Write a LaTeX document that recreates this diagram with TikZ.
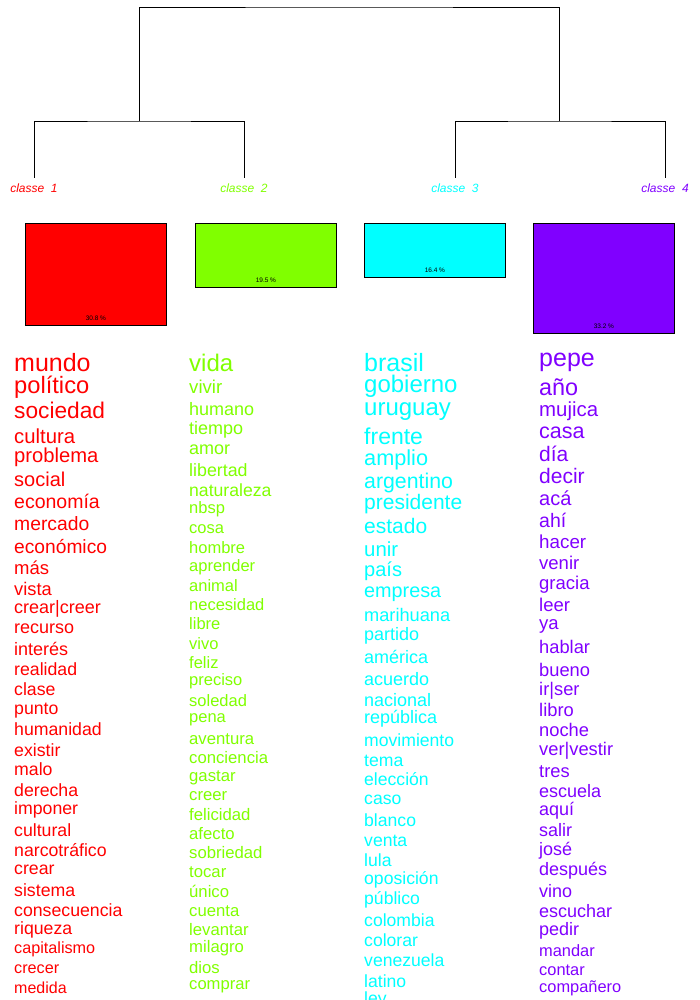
\documentclass[tikz,border=0pt]{standalone}
\usepackage{fontspec}
\setmainfont{Liberation Sans}
\usepackage{xcolor}
\definecolor{cla}{HTML}{FF0000}
\definecolor{clb}{HTML}{80FF00}
\definecolor{clc}{HTML}{00FFFF}
\definecolor{cld}{HTML}{8000FF}
\usetikzlibrary{positioning}

\begin{document}
\begin{tikzpicture}[x=1pt, y=-1pt,
  tree/.style={draw=black, line width=0.8pt},
  classlabel/.style={inner sep=0pt, font=\fontsize{12}{12}\selectfont\itshape},
  classbox/.style={draw=black, line width=0.8pt, anchor=north west, inner sep=0pt, minimum width=141pt},
  pct/.style={inner sep=0pt, anchor=south, yshift=5pt, font=\fontsize{6.5}{6.5}\selectfont},
  word/.style={inner sep=0pt, anchor=mid west, yshift=-5pt}
]
  \useasboundingbox (0,0) rectangle (700,1000);

  % dendrogram
  \node[classlabel, text=cla] (cl1) at (34,188) {classe\ \ 1};
  \node[classlabel, text=clb] (cl2) at (244,188) {classe\ \ 2};
  \node[classlabel, text=clc] (cl3) at (455,188) {classe\ \ 3};
  \node[classlabel, text=cld] (cl4) at (665,188) {classe\ \ 4};
  \coordinate (l1) at (34,178);
  \coordinate (l2) at (244,178);
  \coordinate (l3) at (455,178);
  \coordinate (l4) at (665,178);
  \coordinate (j12) at (139,121);
  \coordinate (j34) at (559,121);
  \coordinate (root) at (349,7);
  \draw[tree] (l1) |- (j12) -| (l2);
  \draw[tree] (l3) |- (j34) -| (l4);
  \draw[tree] (j12) |- (root) -| (j34);

  % class sizes
  \node[classbox, fill=cla, minimum height=102pt] (box1) at (25,223) {};
  \node[classbox, fill=clb, minimum height=64pt] (box2) at (195,223) {};
  \node[classbox, fill=clc, minimum height=54pt] (box3) at (364,223) {};
  \node[classbox, fill=cld, minimum height=110pt] (box4) at (533,223) {};
  \node[pct] (p1) at (box1.south) {30.8 \%};
  \node[pct] (p2) at (box2.south) {19.5 \%};
  \node[pct] (p3) at (box3.south) {16.4 \%};
  \node[pct] (p4) at (box4.south) {33.2 \%};

  % words of classe 1
  \foreach \y/\s/\w [count=\i] in {
    364/25/mundo, 386/23.7/político, 411/22.7/sociedad, 436/20.3/cultura,
    455/20.2/problema, 479/20/social, 501/19.5/economía, 523/19.3/mercado,
    546/19.2/económico, 567/18.5/más, 588/18.3/vista, 606/18/crear|creer,
    626/18/recurso, 648/18/interés, 668/17.7/realidad, 688/17.7/clase,
    707/17.7/punto, 728/17.7/humanidad, 749/17.7/existir, 768/17.7/malo,
    789/17.7/derecha, 807/17.7/imponer, 829/17.7/cultural, 849/17.7/narcotráfico,
    867/17.7/crear, 889/17.7/sistema, 909/17.7/consecuencia, 927/17.7/riqueza,
    946/16.2/capitalismo, 966/16.2/crecer, 986/16/medida
  }{
    \node[word, text=cla, font=\fontsize{\s}{\s}\selectfont] (a\i) at (14,\y) {\w};
  }

  % words of classe 2
  \foreach \y/\s/\w [count=\i] in {
    364/24/vida, 386/18.6/vivir, 408/18/humano, 427/18/tiempo,
    447/18/amor, 469/17.8/libertad, 489/17.6/naturaleza, 506/16.5/nbsp,
    526/16.5/cosa, 546/16.5/hombre, 564/16.5/aprender, 584/16.5/animal,
    603/16.5/necesidad, 622/16.5/libre, 642/16.5/vivo, 661/16.5/feliz,
    678/16.5/preciso, 699/16.5/soledad, 715/16.5/pena, 737/16.7/aventura,
    756/16.7/conciencia, 774/16.7/gastar, 793/16.7/creer, 813/16.7/felicidad,
    832/16.7/afecto, 851/16.7/sobriedad, 870/16.7/tocar, 890/16.7/único,
    909/16.7/cuenta, 928/16.7/levantar, 945/16.7/milagro, 966/16.7/dios,
    982/16.6/comprar
  }{
    \node[word, text=clb, font=\fontsize{\s}{\s}\selectfont] (b\i) at (189,\y) {\w};
  }

  % words of classe 3
  \foreach \y/\s/\w [count=\i] in {
    364/25/brasil, 385/24/gobierno, 408/24/uruguay, 437/23/frente,
    458/21.7/amplio, 481/21.3/argentino, 502/21/presidente, 526/21/estado,
    549/20.4/unir, 569/20/país, 590/19.8/empresa, 614/18.2/marihuana,
    633/18/partido, 656/18/américa, 678/18/acuerdo, 699/18/nacional,
    716/18/república, 739/17.6/movimiento, 759/17.6/tema, 778/17.6/elección,
    797/17.6/caso, 819/17.6/blanco, 839/17.6/venta, 859/17.6/lula,
    877/17.6/oposición, 897/17.6/público, 919/17.6/colombia, 939/17.6/colorar,
    959/17.6/venezuela, 980/17.6/latino, 997/17.6/ley
  }{
    \node[word, text=clc, font=\fontsize{\s}{\s}\selectfont] (c\i) at (364,\y) {\w};
  }

  % words of classe 4
  \foreach \y/\s/\w [count=\i] in {
    359/25/pepe, 388/23.4/año, 409/20.4/mujica, 431/21.5/casa,
    454/21/día, 476/21/decir, 498/20/acá, 520/19.5/ahí,
    541/18.8/hacer, 562/18.5/venir, 582/18.5/gracia, 604/18.5/leer,
    622/18.5/ya, 646/18.3/hablar, 669/18.3/bueno, 688/18.3/ir|ser,
    709/18.3/libro, 729/18.3/noche, 748/18.3/ver|vestir, 770/18.3/tres,
    790/18/escuela, 808/18/aquí, 829/18/salir, 848/18/josé,
    868/18/después, 890/18/vino, 910/18/escuchar, 928/18/pedir,
    949/16.4/mandar, 968/16.4/contar, 985/16.4/compañero
  }{
    \node[word, text=cld, font=\fontsize{\s}{\s}\selectfont] (d\i) at (539,\y) {\w};
  }
\end{tikzpicture}
\end{document}
